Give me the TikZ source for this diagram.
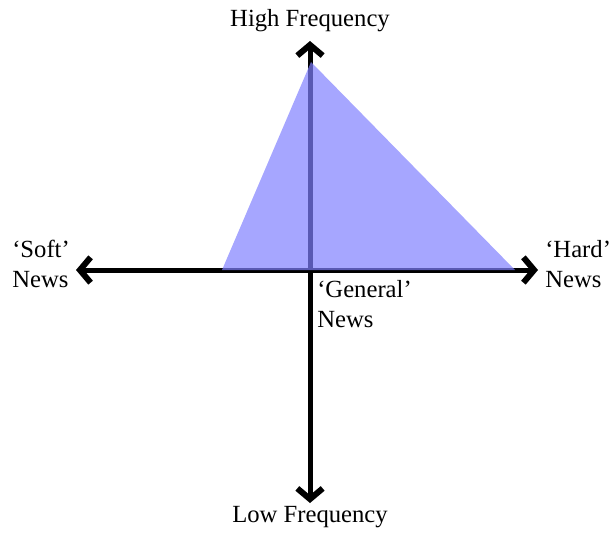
\documentclass[tikz,border=0pt]{standalone}
\usepackage{fontspec}
\setmainfont{Liberation Serif}
\usetikzlibrary{arrows.meta, positioning}
\tikzset{
  axisline/.style={
    line width=3.75pt, color=black,
    -{Straight Barb[length=8pt,width=19pt,line width=4.5pt]}
  },
  axislabel/.style={
    inner sep=0pt, font=\fontsize{18.5}{22.5}\selectfont, text=black
  },
  regionfill/.style={fill=blue!50, fill opacity=0.7},
}
\begin{document}
\begin{tikzpicture}[x=0.75pt, y=-0.75pt]
  \useasboundingbox (0,0) rectangle (610,535);
  % axis ends
  \coordinate (origin) at (310,270);
  \coordinate (top)    at (310,41);
  \coordinate (bottom) at (310,503);
  \coordinate (left)   at (76,270);
  \coordinate (right)  at (538,270);
  % labels
  \node[axislabel, anchor=base] (high) at (310,27)  {High Frequency};
  \node[axislabel, anchor=base] (low)  at (310,522) {Low Frequency};
  \node[axislabel, anchor=north west, align=left] (soft) at (12,240)
        {`Soft'\\News};
  \node[axislabel, anchor=north west, align=left] (hard) at (545,240)
        {`Hard'\\News};
  \node[axislabel, anchor=north west, align=left] (general) at (317,280)
        {`General'\\News};
  % axes
  \draw[axisline] (origin) -- (top);
  \draw[axisline] (origin) -- (bottom);
  \draw[axisline] (origin) -- (left);
  \draw[axisline] (origin) -- (right);
  % news region
  \fill[regionfill] (311,62) -- (222,270) -- (515,270) -- cycle;
\end{tikzpicture}
\end{document}
